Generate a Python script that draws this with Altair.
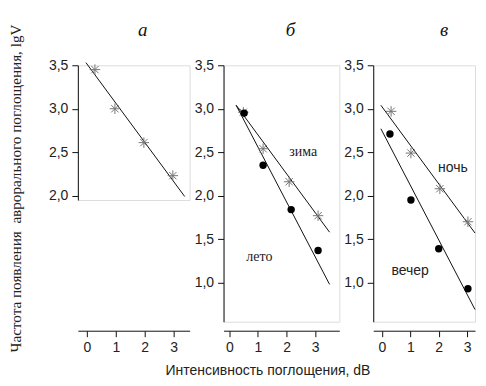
import altair as alt
import pandas as pd

# ---------------- data ----------------
x_ticks = [0, 1, 2, 3]
y_ticks_a = [2.0, 2.5, 3.0, 3.5]
y_ticks_bc = [1.0, 1.5, 2.0, 2.5, 3.0, 3.5]
panel_titles = ["a", "б", "в"]

# panel a
a_x = [0.28, 0.97, 1.97, 2.97]
a_y = [3.45, 3.00, 2.61, 2.23]
a_fit_x = [-0.03, 3.38]
a_fit_y = [3.53, 1.99]

# panel б
b_winter_x = [0.49, 1.18, 2.09, 3.10]
b_winter_y = [2.96, 2.54, 2.16, 1.77]
b_summer_x = [0.52, 1.18, 2.16, 3.10]
b_summer_y = [2.95, 2.35, 1.84, 1.37]
b_fit_x = [0.24, 3.50]
b_winter_fit_y = [3.04, 1.58]
b_summer_fit_y = [3.04, 0.98]
b_labels = ["зима", "лето"]
b_label_x = [2.58, 1.05]
b_label_y = [2.50, 1.30]

# panel в (the reference is cropped at its right edge)
v_night_x = [0.32, 1.02, 2.04, 3.03]
v_night_y = [2.97, 2.49, 2.08, 1.70]
v_evening_x = [0.28, 1.02, 2.00, 3.03]
v_evening_y = [2.71, 1.95, 1.39, 0.93]
v_fit_x = [-0.04, 3.28]
v_night_fit_y = [3.04, 1.57]
v_evening_fit_y = [2.77, 0.69]
v_labels = ["ночь", "вечер"]
v_label_x = [2.50, 0.99]
v_label_y = [2.32, 1.13]

y_title = "Частота появления\u00a0 аврорального поглощения, lgV"
x_title = "Интенсивность поглощения, dB"

# ---------------- styling helpers ----------------
STAR = "M0,-1L0,1M-1,0L1,0M-0.7,-0.7L0.7,0.7M-0.7,0.7L0.7,-0.7"
LABEL_EXPR_Y = "replace(format(datum.value, '.1f'), '.', ',')"


def axis_common():
    return dict(
        grid=False,
        domainColor="#111",
        tickColor="#111",
        labelColor="#222",
        labelFont="Liberation Sans",
        labelFontSize=14,
        tickSize=6,
        labelPadding=4,
    )


def enc(xdom, ydom, yvals, xoffset, xtitle=None):
    xargs = dict(values=x_ticks, format="d", offset=xoffset, **axis_common())
    if xtitle:
        xargs.update(
            title=xtitle,
            titleFont="Liberation Sans",
            titleFontSize=14,
            titleFontWeight="normal",
            titleColor="#222",
            titleX=44,
            titleY=40,
            titleBaseline="middle",
        )
    else:
        xargs.update(title=None)
    yargs = dict(values=yvals, labelExpr=LABEL_EXPR_Y, title=None, **axis_common())
    xe = alt.X("x:Q", scale=alt.Scale(domain=xdom, nice=False, zero=False), axis=alt.Axis(**xargs))
    ye = alt.Y("y:Q", scale=alt.Scale(domain=ydom, nice=False, zero=False), axis=alt.Axis(**yargs))
    return xe, ye


def line_layer(xs, ys, xe, ye):
    df = pd.DataFrame({"x": xs, "y": ys})
    return alt.Chart(df).mark_line(color="#111", strokeWidth=1).encode(x=xe, y=ye)


def star_layer(xs, ys, xe, ye):
    df = pd.DataFrame({"x": xs, "y": ys})
    return alt.Chart(df).mark_point(
        shape=STAR, size=110, filled=False, stroke="#777", strokeWidth=1, opacity=1
    ).encode(x=xe, y=ye)


def dot_layer(xs, ys, xe, ye):
    df = pd.DataFrame({"x": xs, "y": ys})
    return alt.Chart(df).mark_circle(size=55, color="#000", opacity=1).encode(x=xe, y=ye)


def text_layer(texts, xs, ys, font, xe, ye):
    df = pd.DataFrame({"x": xs, "y": ys, "t": texts})
    return alt.Chart(df).mark_text(
        font=font, fontSize=14, color="#222", align="center", baseline="middle"
    ).encode(x=xe, y=ye, text="t:N")


def ptitle(t, dx):
    return alt.TitleParams(
        text=t, font="Liberation Serif", fontStyle="italic", fontSize=19,
        fontWeight="normal", color="#111", anchor="middle", dx=dx, offset=18,
        frame="group",
    )


# ---------------- panel a ----------------
xa, ya = enc([-0.31, 3.55], [1.95, 3.5], y_ticks_a, 131)
panel_a = alt.layer(
    line_layer(a_fit_x, a_fit_y, xa, ya),
    star_layer(a_x, a_y, xa, ya),
).properties(width=112, height=135, title=ptitle(panel_titles[0], 9))

# ---------------- panel б ----------------
xb, yb = enc([-0.20, 3.84], [0.55, 3.5], y_ticks_bc, 9, xtitle=x_title)
panel_b = alt.layer(
    line_layer(b_fit_x, b_winter_fit_y, xb, yb),
    line_layer(b_fit_x, b_summer_fit_y, xb, yb),
    star_layer(b_winter_x, b_winter_y, xb, yb),
    dot_layer(b_summer_x, b_summer_y, xb, yb),
    text_layer(b_labels, b_label_x, b_label_y, "Liberation Serif", xb, yb),
).properties(width=116, height=257, title=ptitle(panel_titles[1], 9))

# ---------------- panel в ----------------
xv, yv = enc([-0.31, 3.28], [0.55, 3.5], y_ticks_bc, 9)
panel_v = alt.layer(
    line_layer(v_fit_x, v_night_fit_y, xv, yv),
    line_layer(v_fit_x, v_evening_fit_y, xv, yv),
    star_layer(v_night_x, v_night_y, xv, yv),
    dot_layer(v_evening_x, v_evening_y, xv, yv),
    text_layer(v_labels, v_label_x, v_label_y, "Liberation Sans", xv, yv),
).properties(width=102, height=257, title=ptitle(panel_titles[2], 20))

chart = alt.hconcat(panel_a, panel_b, panel_v, spacing=34, bounds="flush").properties(
    title=alt.TitleParams(
        text=y_title, orient="left", anchor="middle", font="Liberation Serif",
        fontSize=15.2, fontWeight="normal", color="#222", offset=24, dx=11,
    ),
    padding={"left": 0, "top": 12, "right": 0, "bottom": 0},
).configure_view(strokeWidth=0).configure(background="white")

chart.save("out.html", embed_options={"renderer": "svg", "actions": False})
